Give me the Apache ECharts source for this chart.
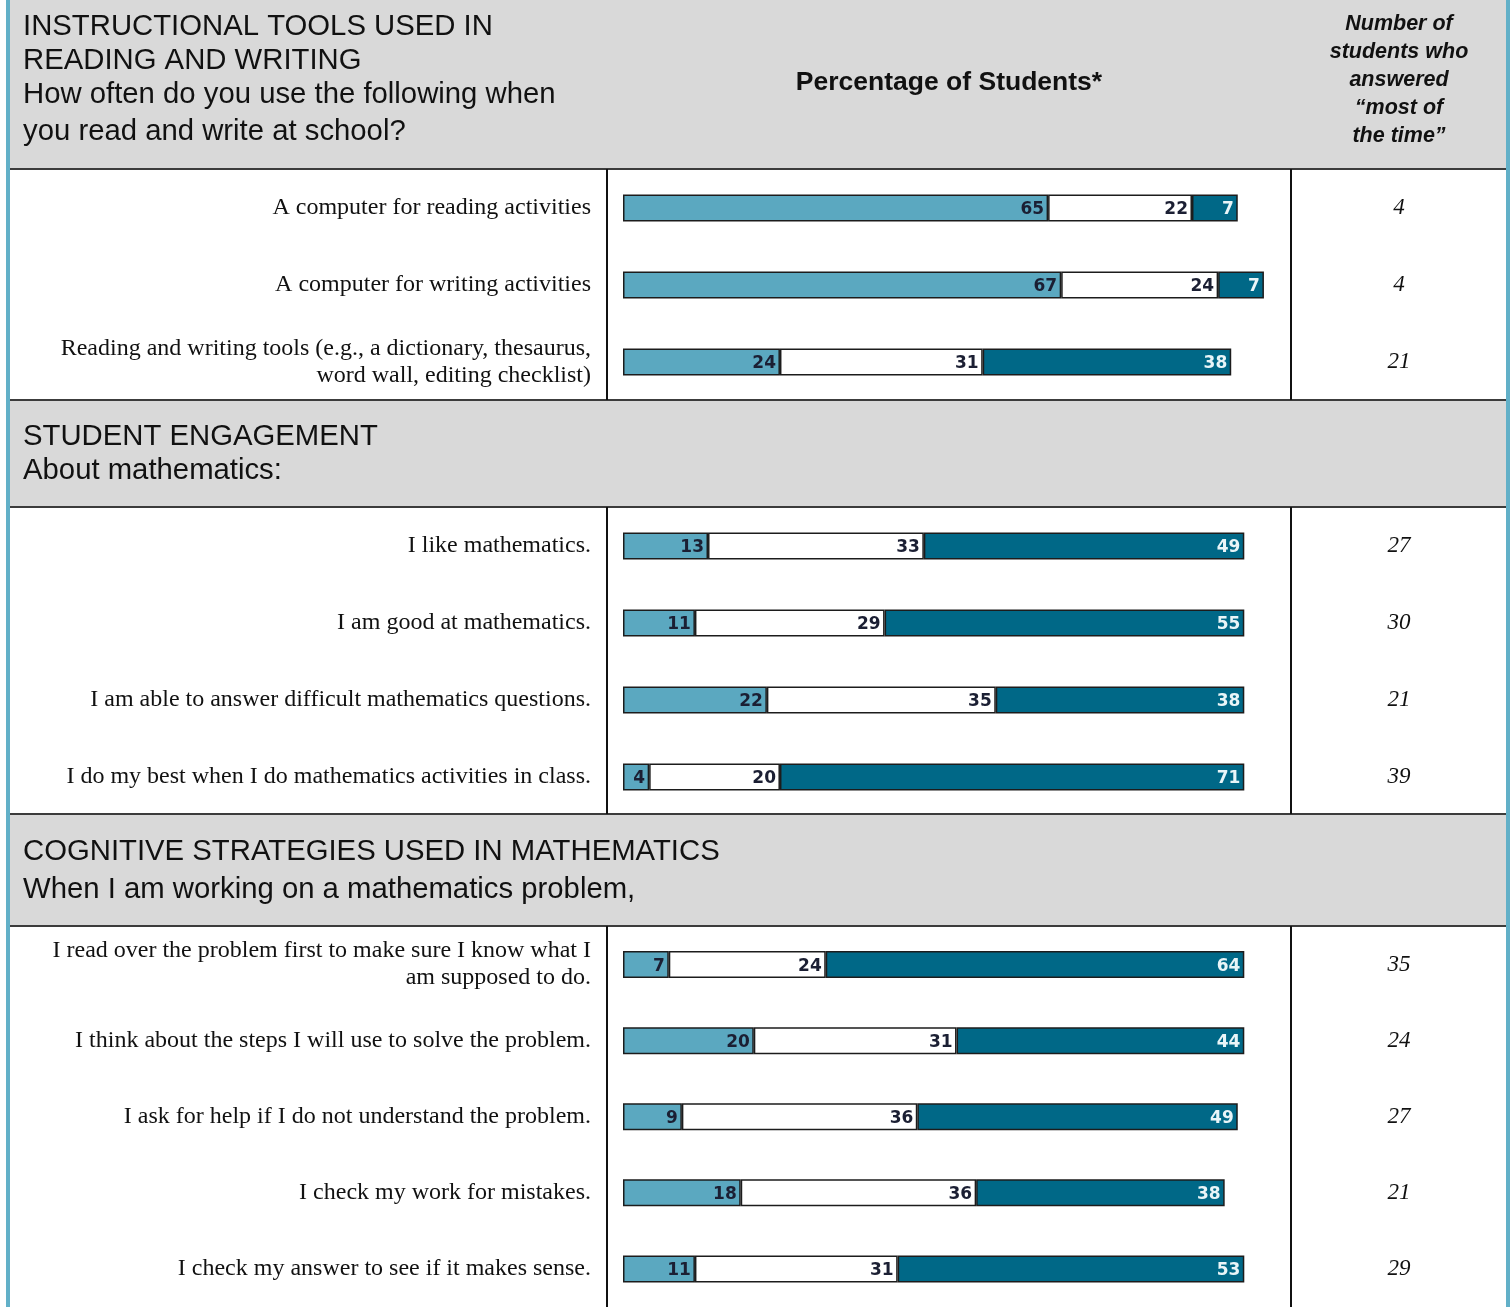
<!DOCTYPE html>
<html>
<head>
<meta charset="utf-8">
<title>Instructional tools, engagement and cognitive strategies</title>
<script src="https://cdn.jsdelivr.net/npm/echarts@6/dist/echarts.min.js"></script>
<style>
  html, body { margin: 0; padding: 0; background: #ffffff; }
  #chart { width: 1512px; height: 1307px; }
</style>
</head>
<body>
<div id="chart"></div>
<script>
// ---- Section 1: instructional tools used in reading and writing ----
const toolItems = [
  'A computer for reading activities',
  'A computer for writing activities',
  'Reading and writing tools (e.g., a dictionary, thesaurus,\nword wall, editing checklist)'
];
const toolRarely = [65, 67, 24];
const toolSometimes = [22, 24, 31];
const toolMost = [7, 7, 38];
const toolCounts = ['4', '4', '21'];

// ---- Section 2: student engagement about mathematics ----
const engagementItems = [
  'I like mathematics.',
  'I am good at mathematics.',
  'I am able to answer difficult mathematics questions.',
  'I do my best when I do mathematics activities in class.'
];
const engagementDisagree = [13, 11, 22, 4];
const engagementAgree = [33, 29, 35, 20];
const engagementStrongly = [49, 55, 38, 71];
const engagementCounts = ['27', '30', '21', '39'];

// ---- Section 3: cognitive strategies used in mathematics ----
const strategyItems = [
  'I read over the problem first to make sure I know what I\nam supposed to do.',
  'I think about the steps I will use to solve the problem.',
  'I ask for help if I do not understand the problem.',
  'I check my work for mistakes.',
  'I check my answer to see if it makes sense.'
];
const strategyRarely = [7, 20, 9, 18, 11];
const strategySometimes = [24, 31, 36, 36, 31];
const strategyMost = [64, 44, 49, 38, 53];
const strategyCounts = ['35', '24', '27', '21', '29'];

const seriesNames = ['Never or rarely', 'Sometimes', 'Most of the time'];

// ---- styling ----
const LIGHT = '#5ba8c0';
const DARK = '#006887';
const EDGE = '#1c1c1c';
const HEAD_BG = '#d9d9d9';
const RULE = '#3c3c3c';
const STRIPE = '#62b0c8';

const ROW = 77;              // height of one row, px
const PLOT_LEFT = 623;
const PLOT_WIDTH = 654;      // 0..100 percent

const sections = [
  { items: toolItems, parts: [toolRarely, toolSometimes, toolMost], counts: toolCounts, top: 169.5 },
  { items: engagementItems, parts: [engagementDisagree, engagementAgree, engagementStrongly], counts: engagementCounts, top: 507.5 },
  { items: strategyItems, parts: [strategyRarely, strategySometimes, strategyMost], counts: strategyCounts, top: 926.5 }
];

const grids = [], xAxes = [], yAxes = [], series = [];
const segColors = [LIGHT, '#ffffff', DARK];
const labelColors = ['#1b1f33', '#1b1f33', '#e9f5f8'];

sections.forEach((s, i) => {
  grids.push({ left: PLOT_LEFT, width: PLOT_WIDTH, top: s.top, height: s.items.length * ROW });
  xAxes.push({ gridIndex: i, type: 'value', min: 0, max: 100, show: false });
  yAxes.push({
    gridIndex: i, type: 'category', data: s.items, inverse: true, position: 'left',
    axisLine: { show: false }, axisTick: { show: false }, splitLine: { show: false },
    axisLabel: {
      margin: 32, fontFamily: 'Liberation Serif', fontSize: 24, color: '#111111',
      lineHeight: 27, align: 'right', padding: [6, 0, 0, 0]
    }
  });
  yAxes.push({
    gridIndex: i, type: 'category', data: s.counts, inverse: true, position: 'right',
    axisLine: { show: false }, axisTick: { show: false }, splitLine: { show: false },
    axisLabel: {
      margin: 122, align: 'center', fontFamily: 'Liberation Serif', fontStyle: 'italic',
      fontSize: 23, color: '#111111', padding: [2, 0, 0, 0]
    }
  });
  s.parts.forEach((vals, k) => {
    series.push({
      type: 'bar', name: seriesNames[k], stack: 'sec' + i,
      xAxisIndex: i, yAxisIndex: i * 2,
      data: vals, barWidth: 27,
      itemStyle: { color: segColors[k], borderColor: EDGE, borderWidth: 1.5 },
      label: {
        show: true, position: 'insideRight', distance: 4, offset: [0, 2],
        fontFamily: 'DejaVu Sans', fontWeight: 'bold', fontSize: 17,
        color: labelColors[k]
      },
      silent: true
    });
  });
});

// ---- table frame: header bands, rules and side stripes ----
const g = [];
function rect(x, y, w, h, fill) {
  g.push({ type: 'rect', shape: { x, y, width: w, height: h }, style: { fill }, z: 0, silent: true });
}
function line(x1, y1, x2, y2, w, c) {
  g.push({ type: 'line', shape: { x1, y1, x2, y2 }, style: { stroke: c, lineWidth: w }, z: 1, silent: true });
}
function text(t, x, y, font, align) {
  g.push({ type: 'text', x, y, style: { text: t, font, fill: '#111111', textAlign: align || 'left', textVerticalAlign: 'middle' }, z: 2, silent: true });
}

rect(10, 0, 1496, 169, HEAD_BG);
rect(10, 400, 1496, 107, HEAD_BG);
rect(10, 814, 1496, 112, HEAD_BG);
rect(6, 0, 4, 1307, STRIPE);
rect(1506, 0, 4, 1307, STRIPE);

[169, 400, 507, 814, 926].forEach(y => line(10, y, 1506, y, 2, RULE));
[[169, 400], [507, 814], [926, 1307]].forEach(([a, b]) => {
  line(607, a, 607, b, 2, '#111111');
  line(1291, a, 1291, b, 2, '#111111');
});

const headFont = '29.3px "Liberation Sans"';
text('INSTRUCTIONAL TOOLS USED IN', 23, 27, headFont);
text('READING AND WRITING', 23, 61, headFont);
text('How often do you use the following when', 23, 95, headFont);
text('you read and write at school?', 23, 132, headFont);
text('Percentage of Students*', 949, 83, 'bold 26.5px "Liberation Sans"', 'center');

const countHead = ['Number of', 'students who', 'answered', '\u201Cmost of', 'the time\u201D'];
countHead.forEach((t, i) => text(t, 1399, 24 + i * 28, 'italic bold 21.5px "Liberation Sans"', 'center'));

text('STUDENT ENGAGEMENT', 23, 437, headFont);
text('About mathematics:', 23, 471, headFont);
text('COGNITIVE STRATEGIES USED IN MATHEMATICS', 23, 852, headFont);
text('When I am working on a mathematics problem,', 23, 890, headFont);

const chart = echarts.init(document.getElementById('chart'), null, { renderer: 'canvas' });
chart.setOption({
  animation: false,
  backgroundColor: '#ffffff',
  grid: grids,
  xAxis: xAxes,
  yAxis: yAxes,
  series: series,
  graphic: { elements: g }
});
</script>
</body>
</html>
